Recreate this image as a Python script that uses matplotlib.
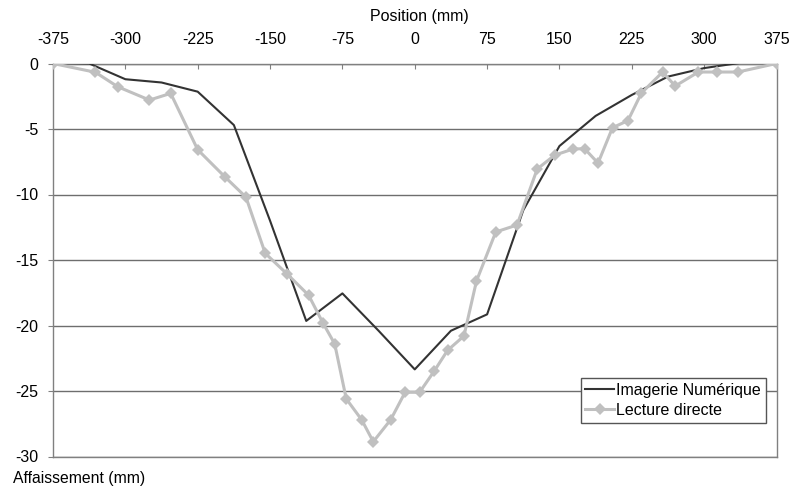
import matplotlib
matplotlib.use("Agg")
import matplotlib.pyplot as plt

# Imagerie Numérique (black line)
pos_img = [-375, -337.5, -300, -262.5, -225, -187.5, -150, -112.5, -75, -37.5,
           0, 37.5, 75, 112.5, 150, 187.5, 225, 262.5, 300, 337.5, 375]
aff_img = [0.05, 0.0, -1.2, -1.45, -2.15, -4.7, -12.0, -19.65, -17.55, -20.4,
           -23.35, -20.4, -19.15, -11.2, -6.3, -4.0, -2.4, -1.0, -0.35, 0.05, 0.3]

# Lecture directe (grey line with diamonds)
pos_lec = [-375, -331, -308, -275, -253, -225, -197, -175, -155, -132, -110, -95,
           -83, -71, -55, -43, -25, -10, 5, 20, 34, 51, 64, 84, 106, 127, 145,
           164, 176, 190, 205, 221, 235, 257, 270, 294, 313, 335, 375]
aff_lec = [0, -0.67, -1.77, -2.79, -2.28, -6.58, -8.64, -10.2, -14.49, -16.09,
           -17.69, -19.83, -21.4, -25.6, -27.2, -28.87, -27.2, -25.1, -25.1, -23.5,
           -21.9, -20.8, -16.6, -12.86, -12.33, -8.05, -7.0, -6.53, -6.5, -7.6,
           -4.9, -4.36, -2.25, -0.65, -1.72, -0.65, -0.65, -0.65, 0]

xticks = [-375, -300, -225, -150, -75, 0, 75, 150, 225, 300, 375]
yticks = [0, -5, -10, -15, -20, -25, -30]

plt.rcParams['font.family'] = ['Liberation Sans', 'DejaVu Sans']
plt.rcParams['axes.unicode_minus'] = False

fig = plt.figure(figsize=(7.9, 4.88), dpi=100)
ax = fig.add_axes([53 / 790, 1 - 456.5 / 488, 723.5 / 790, 393 / 488])

ax.plot(pos_img, aff_img, color="#333333", lw=1.5, label="Imagerie Numérique", zorder=3)
ax.plot(pos_lec, aff_lec, color="#c0c0c0", lw=2.2, marker="D", markersize=6,
        markeredgewidth=0, label="Lecture directe", zorder=4)

ax.set_xlim(-375, 375)
ax.set_ylim(-30, 0)
ax.set_xticks(xticks)
ax.set_yticks(yticks)
ax.xaxis.tick_top()
ax.tick_params(axis="x", direction="in", length=3.6, pad=12, labelsize=11.5,
               color="#808080")
ax.tick_params(axis="y", direction="out", length=3.6, pad=7, labelsize=11.5,
               color="#808080")
ax.yaxis.grid(True, color="#6e6e6e", lw=1)
for s in ax.spines.values():
    s.set_color("#808080")
    s.set_linewidth(1)
ax.set_axisbelow(True)

fig.text(419 / 790, 1 - 17 / 488, "Position (mm)", ha="center", va="center", fontsize=11.5)
fig.text(13 / 790, 1 - 478 / 488, "Affaissement (mm)", ha="left", va="center", fontsize=11.3)

leg = ax.legend(loc="upper right", bbox_to_anchor=(0.9855, 0.199), fontsize=11.5,
                fancybox=False, framealpha=1, edgecolor="#555555", borderpad=0.3,
                handlelength=1.8, handletextpad=0.15, labelspacing=0.3,
                borderaxespad=0)
leg.get_frame().set_linewidth(1)

fig.savefig("out.png", dpi=100)
